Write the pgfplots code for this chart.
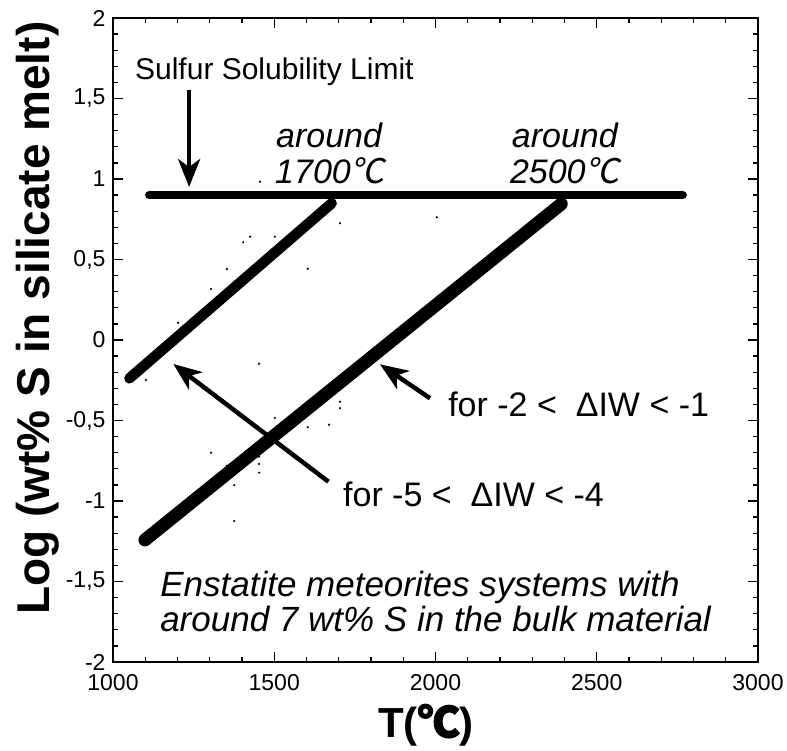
\documentclass[border=0pt]{standalone}
\usepackage{fontspec}
\setmainfont{Liberation Sans}
\newfontfamily\cjk{Noto Sans CJK JP}
\newfontfamily\cjkit[FakeSlant=0.2]{Noto Sans CJK JP}
\newfontfamily\cjkbf[FakeBold=3]{Noto Sans CJK JP}
\usepackage{pgfplots}
\pgfplotsset{compat=1.18}
\usetikzlibrary{arrows.meta}
\newcommand{\degCbf}{{\cjkbf ℃}}
\newcommand{\degCit}{{\cjkit ℃}}
\begin{document}
\begin{tikzpicture}[x=1pt,y=1pt]
\useasboundingbox (0,0) rectangle (787,751);
\begin{axis}[
  at={(113pt,89pt)}, anchor=south west,
  scale only axis, width=645pt, height=644pt,
  xmin=1000, xmax=3000, ymin=-2, ymax=2,
  clip=false,
  xtick={1000,1500,2000,2500,3000},
  ytick={-2,-1.5,-1,-0.5,0,0.5,1,1.5,2},
  minor x tick num=4, minor y tick num=4,
  tick align=inside,
  major tick length=10pt, minor tick length=5pt,
  axis line style={line width=1.8pt},
  every tick/.style={black, line width=1.3pt},
  tick label style={font=\fontsize{23}{27}\selectfont},
  xticklabel style={yshift=-9pt},
  yticklabel style={xshift=-4pt},
  /pgf/number format/use comma,
  /pgf/number format/1000 sep={},
  /pgf/number format/assume math mode=true,
  xlabel={T(\degCbf)},
  ylabel={Log (wt\% S in silicate melt)},
  every axis x label/.style={at={(axis description cs:0.485,-0.098)}, anchor=center, font=\fontsize{42}{50}\selectfont\bfseries},
  every axis y label/.style={at={(axis description cs:-0.116,0.534)}, anchor=center, rotate=90, font=\fontsize{46}{54}\selectfont\bfseries},
]
% scattered tiny dots
\addplot[only marks, mark=*, mark size=0.9pt, black] coordinates {
(1404,0.607) (1425,0.642) (1502,0.642) (1353,0.441) (1304,0.317)
(1202,0.107) (1102,-0.248) (1453,-0.147) (1502,-0.484) (1304,-0.700)
(1353,-0.781) (1453,-0.725) (1453,-0.770) (1453,-0.824) (1376,-0.902)
(1376,-1.124) (1704,0.725) (2004,0.762) (1604,0.443) (1704,-0.383)
(1704,-0.424) (1604,-0.542) (1670,-0.526) (1456,0.983)
};
% sulfur solubility limit
\addplot[black, line width=8pt, line cap=round] coordinates {(1112,0.9) (2767,0.9)};
% around 1700 C
\addplot[black, line width=10.5pt, line cap=round] coordinates {(1051,-0.238) (1678,0.849)};
% around 2500 C
\addplot[black, line width=13pt, line cap=round] coordinates {(1099,-1.242) (2390,0.845)};
% arrows
\draw[black, line width=4.5pt, -{Stealth[length=28pt,width=22pt,inset=8pt]}] (axis cs:1236,1.553) -- (axis cs:1236,0.95);
\draw[black, line width=4.5pt, -{Stealth[length=28pt,width=22pt,inset=8pt]}] (axis cs:1668,-0.88) -- (axis cs:1187,-0.149);
\draw[black, line width=4.5pt, -{Stealth[length=28pt,width=22pt,inset=8pt]}] (axis cs:1983,-0.362) -- (axis cs:1828,-0.151);
% texts
\node[anchor=base west, inner sep=0, font=\fontsize{30}{36}\selectfont] at (axis cs:1068,1.621) {Sulfur Solubility Limit};
\node[anchor=base, inner sep=0, font=\fontsize{34}{40}\selectfont\itshape] at (axis cs:1670,1.193) {around};
\node[anchor=base, inner sep=0, font=\fontsize{34}{40}\selectfont\itshape] at (axis cs:1673,0.975) {1700\degCit};
\node[anchor=base, inner sep=0, font=\fontsize{34}{40}\selectfont\itshape] at (axis cs:2401,1.193) {around};
\node[anchor=base, inner sep=0, font=\fontsize{34}{40}\selectfont\itshape] at (axis cs:2401,0.97) {2500\degCit};
\node[anchor=base west, inner sep=0, font=\fontsize{34}{40}\selectfont] at (axis cs:2039,-0.478) {for -2 <~ ΔIW < -1};
\node[anchor=base west, inner sep=0, font=\fontsize{34}{40}\selectfont] at (axis cs:1713,-1.037) {for -5 <~ ΔIW < -4};
\node[anchor=base west, inner sep=0, font=\fontsize{35}{40}\selectfont\itshape] at (axis cs:1146,-1.594) {Enstatite meteorites systems with};
\node[anchor=base west, inner sep=0, font=\fontsize{35}{40}\selectfont\itshape] at (axis cs:1146,-1.812) {around 7 wt\% S in the bulk material};
\end{axis}
\end{tikzpicture}
\end{document}
